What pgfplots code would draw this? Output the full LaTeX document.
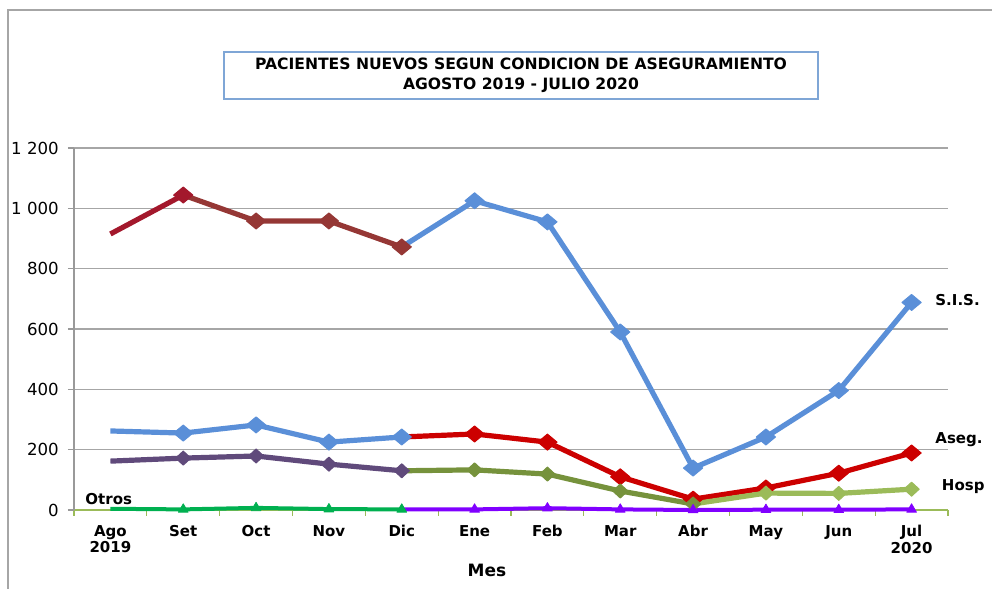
\documentclass[border=0pt]{standalone}
\usepackage{pgfplots}
\pgfplotsset{compat=1.18}
\usepackage{fontspec}
\setmainfont{DejaVu Sans}
\definecolor{cblue}{HTML}{5A8FD8}
\definecolor{crimson}{HTML}{A3182C}
\definecolor{cbrown}{HTML}{953735}
\definecolor{cpurple}{HTML}{604A7B}
\definecolor{cred}{HTML}{CC0000}
\definecolor{colive}{HTML}{76923C}
\definecolor{clgreen}{HTML}{9BBB59}
\definecolor{cgreen}{HTML}{00B050}
\definecolor{cviolet}{HTML}{8000FF}
\definecolor{titleblue}{HTML}{7FA6D6}
\begin{document}
\begin{tikzpicture}
\path[use as bounding box] (0pt,0pt) rectangle (496pt,294.5pt);
\draw[gray!70, line width=0.7pt] (4pt,0pt) -- (4pt,289.5pt) -- (496pt,289.5pt);
\draw[titleblue, line width=0.6pt] (112pt,245pt) rectangle (409pt,268.5pt);
\node[font=\bfseries\fontsize{7.8}{9.8}\selectfont, align=center] at (260.5pt,256.75pt) {PACIENTES NUEVOS SEGUN CONDICION DE ASEGURAMIENTO\\AGOSTO 2019 - JULIO 2020};
\begin{axis}[at={(37pt,39.5pt)}, anchor=south west, scale only axis,
  width=437pt, height=181pt,
  xmin=-0.5, xmax=11.5, ymin=0, ymax=1200,
  clip=false,
  axis x line*=bottom, axis y line*=left,
  x axis line style={clgreen, line width=0.8pt, -},
  y axis line style={gray!80, line width=0.7pt, -},
  ytick={0,200,...,1200},
  yticklabels={0,200,400,600,800,1 000,1 200},
  ymajorgrids, grid style={gray!70, line width=0.7pt},
  xtick={0,...,11},
  xticklabels={{Ago\\2019},Set,Oct,Nov,Dic,Ene,Feb,Mar,Abr,May,Jun,{Jul\\2020}},
  minor xtick={-0.5,0.5,...,11.5},
  tick align=outside,
  major x tick style={draw=none},
  minor x tick style={clgreen, line width=0.6pt},
  minor tick length=3pt,
  major y tick style={gray!80, line width=0.6pt},
  major tick length=3pt,
  x tick label style={font=\bfseries\fontsize{7.5}{8.3}\selectfont, align=center, anchor=north, yshift=0pt},
  y tick label style={font=\fontsize{8.3}{9}\selectfont},
  line width=2.6pt,
  every axis plot/.append style={line join=round},
  big/.style={mark=diamond*, mark size=4pt, mark options={xscale=1.6, line width=0.5pt}},
  small/.style={mark=diamond*, mark size=3.5pt, mark options={xscale=1.45, line width=0.5pt}},
]
% upper blue (S.I.S.)
\addplot[cblue, big, mark indices={2,3,4,5,6,7,8}] coordinates {(4,872)(5,1025)(6,955)(7,590)(8,139)(9,242)(10,396)(11,688)};
% dark red Ago-Dic
\addplot[crimson, big, mark indices={2}] coordinates {(0,915)(1,1044)};
\addplot[cbrown, big, mark indices={2,3,4}] coordinates {(1,1044)(2,958)(3,958)(4,872)};
% lower blue Ago-Dic
\addplot[cblue, big, mark indices={2,3,4,5}] coordinates {(0,262)(1,255)(2,282)(3,225)(4,242)};
% red (Aseg.)
\addplot[cred, big, mark indices={2,3,4,5,6,7,8}] coordinates {(4,242)(5,252)(6,225)(7,110)(8,36)(9,73)(10,122)(11,189)};
% purple Ago-Dic
\addplot[cpurple, small, mark indices={2,3,4,5}] coordinates {(0,162)(1,172)(2,179)(3,152)(4,130)};
% green (Hosp)
\addplot[colive, small, mark indices={2,3,4,5}] coordinates {(4,130)(5,133)(6,119)(7,63)(8,20)};
\addplot[clgreen, small, mark indices={2,3,4}] coordinates {(8,20)(9,56)(10,55)(11,69)};
% Otros
\addplot[cgreen, line width=2pt, mark=triangle*, mark size=2.8pt, mark options={line width=0.4pt}, mark indices={2,3,4,5}] coordinates {(0,4)(1,2)(2,7)(3,3)(4,2)};
\addplot[cviolet, line width=2pt, mark=triangle*, mark size=2.8pt, mark options={line width=0.4pt}, mark indices={2,3,4,5,6,7,8}] coordinates {(4,2)(5,2)(6,6)(7,2)(8,0)(9,1)(10,1)(11,2)};
\node[anchor=west, font=\bfseries\fontsize{7.5}{9}\selectfont] at (axis cs:11.2,696) {S.I.S.};
\node[anchor=west, font=\bfseries\fontsize{7.5}{9}\selectfont] at (axis cs:11.2,232) {Aseg.};
\node[anchor=west, font=\bfseries\fontsize{7.5}{9}\selectfont] at (axis cs:11.29,76) {Hosp};
\node[anchor=west, font=\bfseries\fontsize{7.5}{9}\selectfont] at (axis cs:-0.47,36) {Otros};
\end{axis}
\node[font=\bfseries\fontsize{8.5}{10}\selectfont] at (243.5pt,9.5pt) {Mes};
\end{tikzpicture}
\end{document}
